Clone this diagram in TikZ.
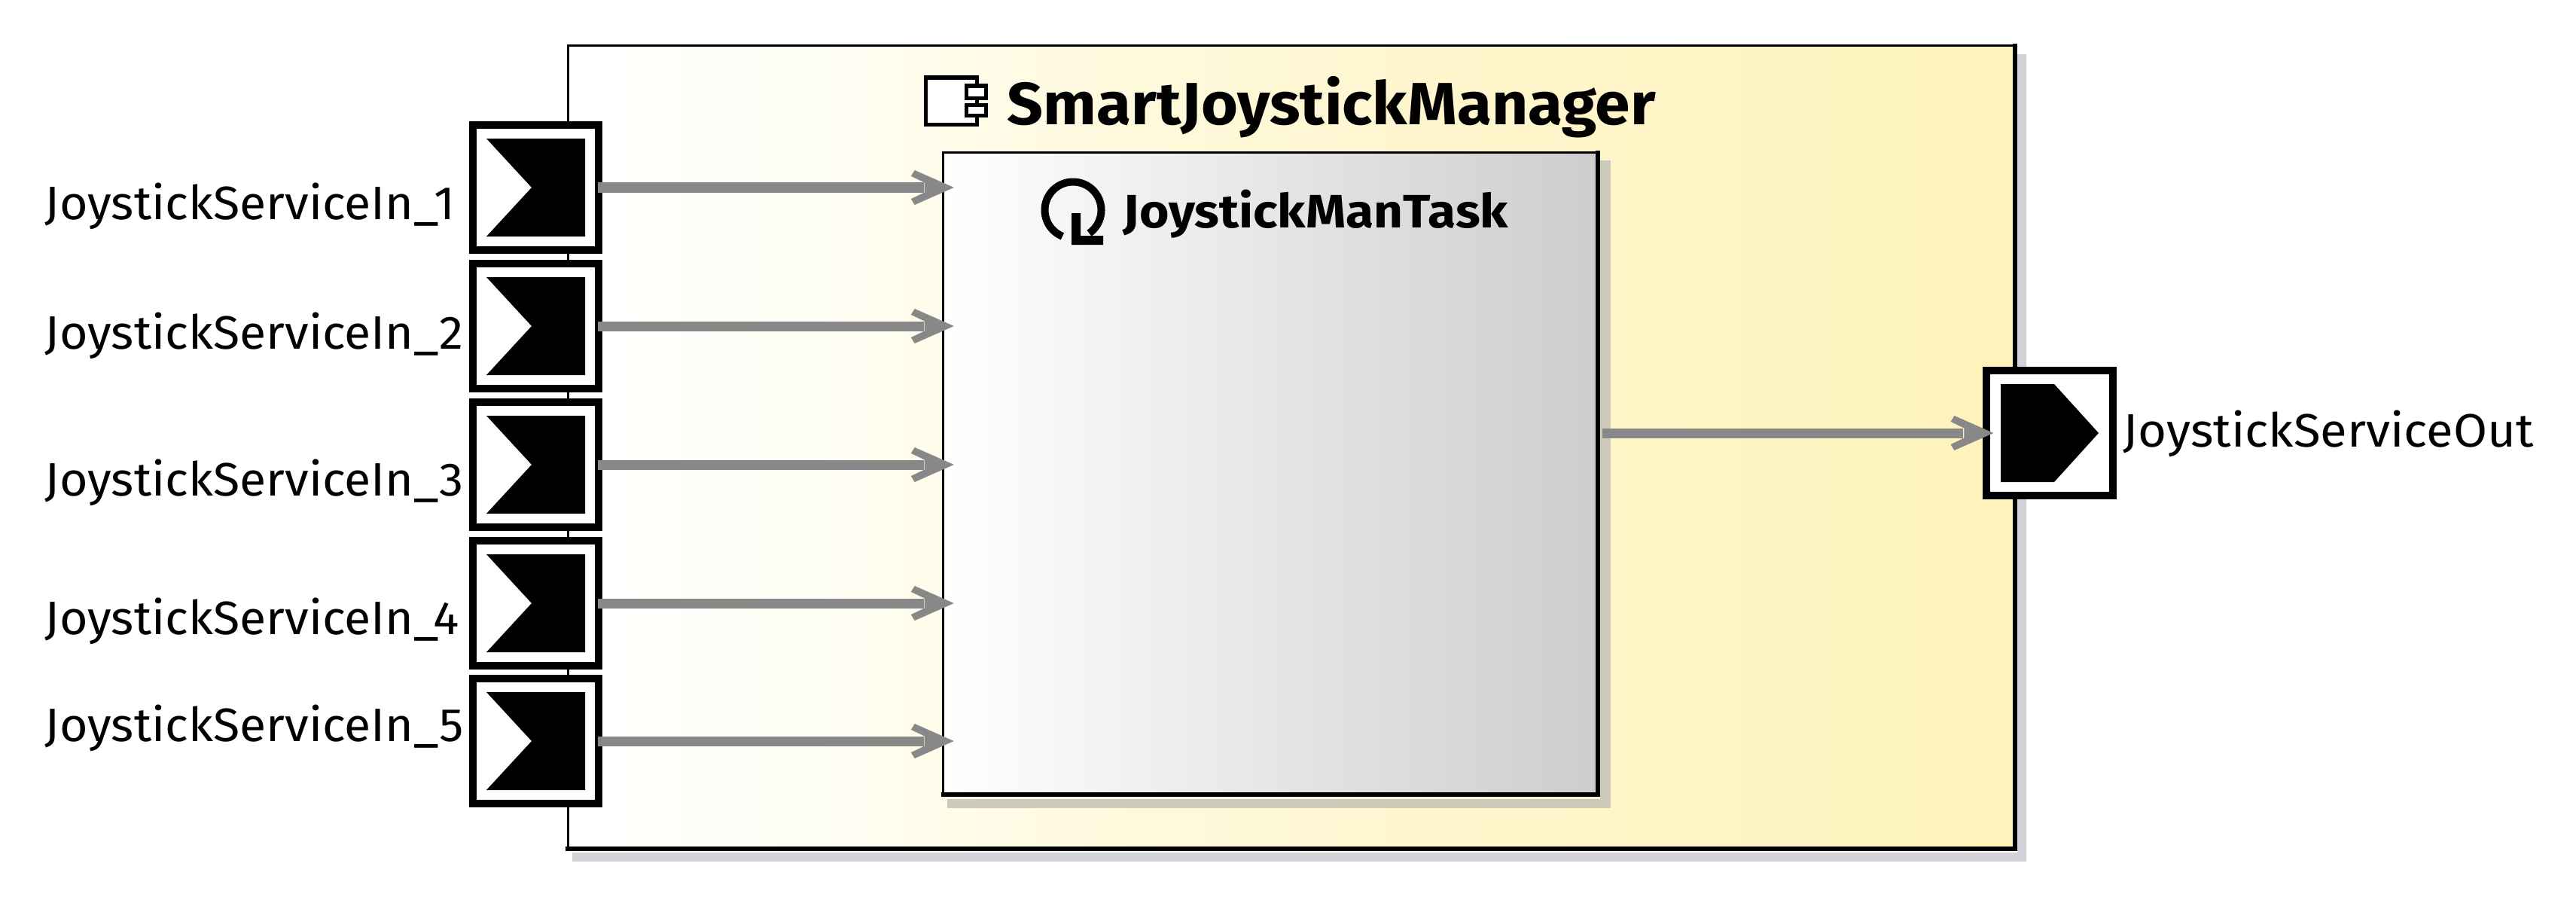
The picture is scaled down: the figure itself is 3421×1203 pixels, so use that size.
\documentclass[tikz,border=0pt]{standalone}
\usepackage{fontspec}
\setmainfont{Fira Sans}
\usetikzlibrary{arrows.meta,calc}
\pgfdeclarearrow{
  name=Chev,
  setup code={
    \pgfarrowssettipend{0pt}
    \pgfarrowssetlineend{-11.4pt}
    \pgfarrowssetvisualbackend{-16.2pt}
    \pgfarrowssetbackend{-16.2pt}
  },
  drawing code={
    \pgfpathmoveto{\pgfqpoint{0pt}{0pt}}
    \pgfpathlineto{\pgfqpoint{-14.8pt}{6.55pt}}
    \pgfpathlineto{\pgfqpoint{-16.2pt}{4.3pt}}
    \pgfpathlineto{\pgfqpoint{-11.1pt}{1.85pt}}
    \pgfpathlineto{\pgfqpoint{-11.1pt}{-1.85pt}}
    \pgfpathlineto{\pgfqpoint{-16.2pt}{-4.3pt}}
    \pgfpathlineto{\pgfqpoint{-14.8pt}{-6.55pt}}
    \pgfpathclose
    \pgfusepathqfill
  }
}
\definecolor{gA}{RGB}{255,254,246}
\definecolor{gB}{RGB}{255,252,234}
\definecolor{gC}{RGB}{255,249,220}
\definecolor{gD}{RGB}{255,246,206}
\definecolor{gE}{RGB}{254,243,186}
\pgfdeclarehorizontalshading{compfill}{100bp}{
  color(0bp)=(white);
  color(25bp)=(white);
  color(32.7bp)=(gA);
  color(38bp)=(gB);
  color(44.5bp)=(gC);
  color(55bp)=(gD);
  color(75bp)=(gE);
  color(100bp)=(gE)}
\definecolor{conncol}{RGB}{136,136,136}
\definecolor{shadowA}{RGB}{210,210,216}
\definecolor{shadowB}{RGB}{205,202,188}
\definecolor{taskend}{RGB}{205,205,205}
\tikzset{
  x=0.01cm,y=-0.01cm,
  comp/.style={rectangle,draw=black,line width=.03cm,outer sep=0pt,inner sep=0pt,shading=compfill,minimum width=19.2cm,minimum height=10.66cm},
  task/.style={rectangle,draw=black,line width=.03cm,outer sep=0pt,inner sep=0pt,left color=white,right color=taskend,minimum width=8.69cm,minimum height=8.52cm},
  port/.style={rectangle,draw=black,fill=white,line width=.10cm,inner sep=0pt,minimum width=1.67cm,minimum height=1.66cm},
  conn/.style={draw=conncol,line width=.13cm,-{Chev},shorten >=-.14cm},
  lab/.style={inner sep=0pt,font=\fontsize{17.7pt}{20pt}\selectfont},
  titlefont/.style={inner sep=0pt,font=\fontsize{22.5pt}{26pt}\selectfont\bfseries},
  taskfont/.style={inner sep=0pt,font=\fontsize{17.7pt}{20pt}\selectfont\bfseries},
}
\begin{document}
\begin{tikzpicture}
\useasboundingbox (0,0) rectangle (3421,1203);
\fill[white] (0,0) rectangle (3421,1203);
% shadow of the component
\fill[shadowA] (2679,72) rectangle (2691,1144);
\fill[shadowA] (760,1132) rectangle (2691,1144);
\node[comp] (comp) at (1715,594) {};
\draw[line width=.06cm,line cap=rect] (comp.north east) -- (comp.south east) -- (comp.south west);
% shadow of the task
\fill[shadowB] (2125,213) rectangle (2139,1073);
\fill[shadowB] (1258,1061) rectangle (2139,1073);
\node[task] (task) at (1687.5,629) {};
\draw[line width=.06cm,line cap=rect] (task.north east) -- (task.south east) -- (task.south west);
% title and component icon
\node[titlefont,anchor=base west] (title) at (1337,165) {\scalebox{1.06}[1]{SmartJoystickManager}};
\fill[white] (1229,103) rectangle (1297,165);
\draw[line width=.05cm] (1229,103) rectangle (1297,165);
\draw[fill=white,line width=.05cm] (1283,114) rectangle (1309,130);
\draw[fill=white,line width=.05cm] (1283,139) rectangle (1309,153);
% task title and icon
\node[taskfont,anchor=base west] (tasktitle) at (1491,302) {\scalebox{1.087}[1]{JoystickManTask}};
\draw[line width=.10cm] plot[smooth,domain=112:415,samples=40] ({1425+37.5*cos(\x)},{279+37.5*sin(\x)});
\fill (1423,283) -- (1435,283) -- (1435,313) -- (1465,313) -- (1465,325) -- (1423,325) -- cycle;
% input ports
\foreach \i/\cy/\by in {1/249/291,2/433/463,3/617/658,4/801/842,5/984/984}{
  \node[port] (p\i) at (711.5,\cy) {};
  \fill ($(p\i)+(-65.5,-65)$) -- ($(p\i)+(65.5,-65)$) -- ($(p\i)+(65.5,65)$) -- ($(p\i)+(-65.5,65)$) -- ($(p\i)+(-5.5,0)$) -- cycle;
  \node[lab,anchor=base west] (l\i) at (59,\by) {\scalebox{1.035}[1]{JoystickServiceIn\_\i}};
  \draw[conn,shorten <=-.06cm] (p\i.east) -- (p\i.east -| task.west);
}
% output port
\node[port] (out) at (2722,575) {};
\fill ($(out)+(-65,-65)$) -- ($(out)+(6,-65)$) -- ($(out)+(65,0)$) -- ($(out)+(6,65)$) -- ($(out)+(-65,65)$) -- cycle;
\node[lab,anchor=base west] (lout) at (2819,593) {\scalebox{1.048}[1]{JoystickServiceOut}};
\draw[conn,shorten <=.06cm] (task.east |- out.west) -- (out.west);
\end{tikzpicture}
\end{document}
